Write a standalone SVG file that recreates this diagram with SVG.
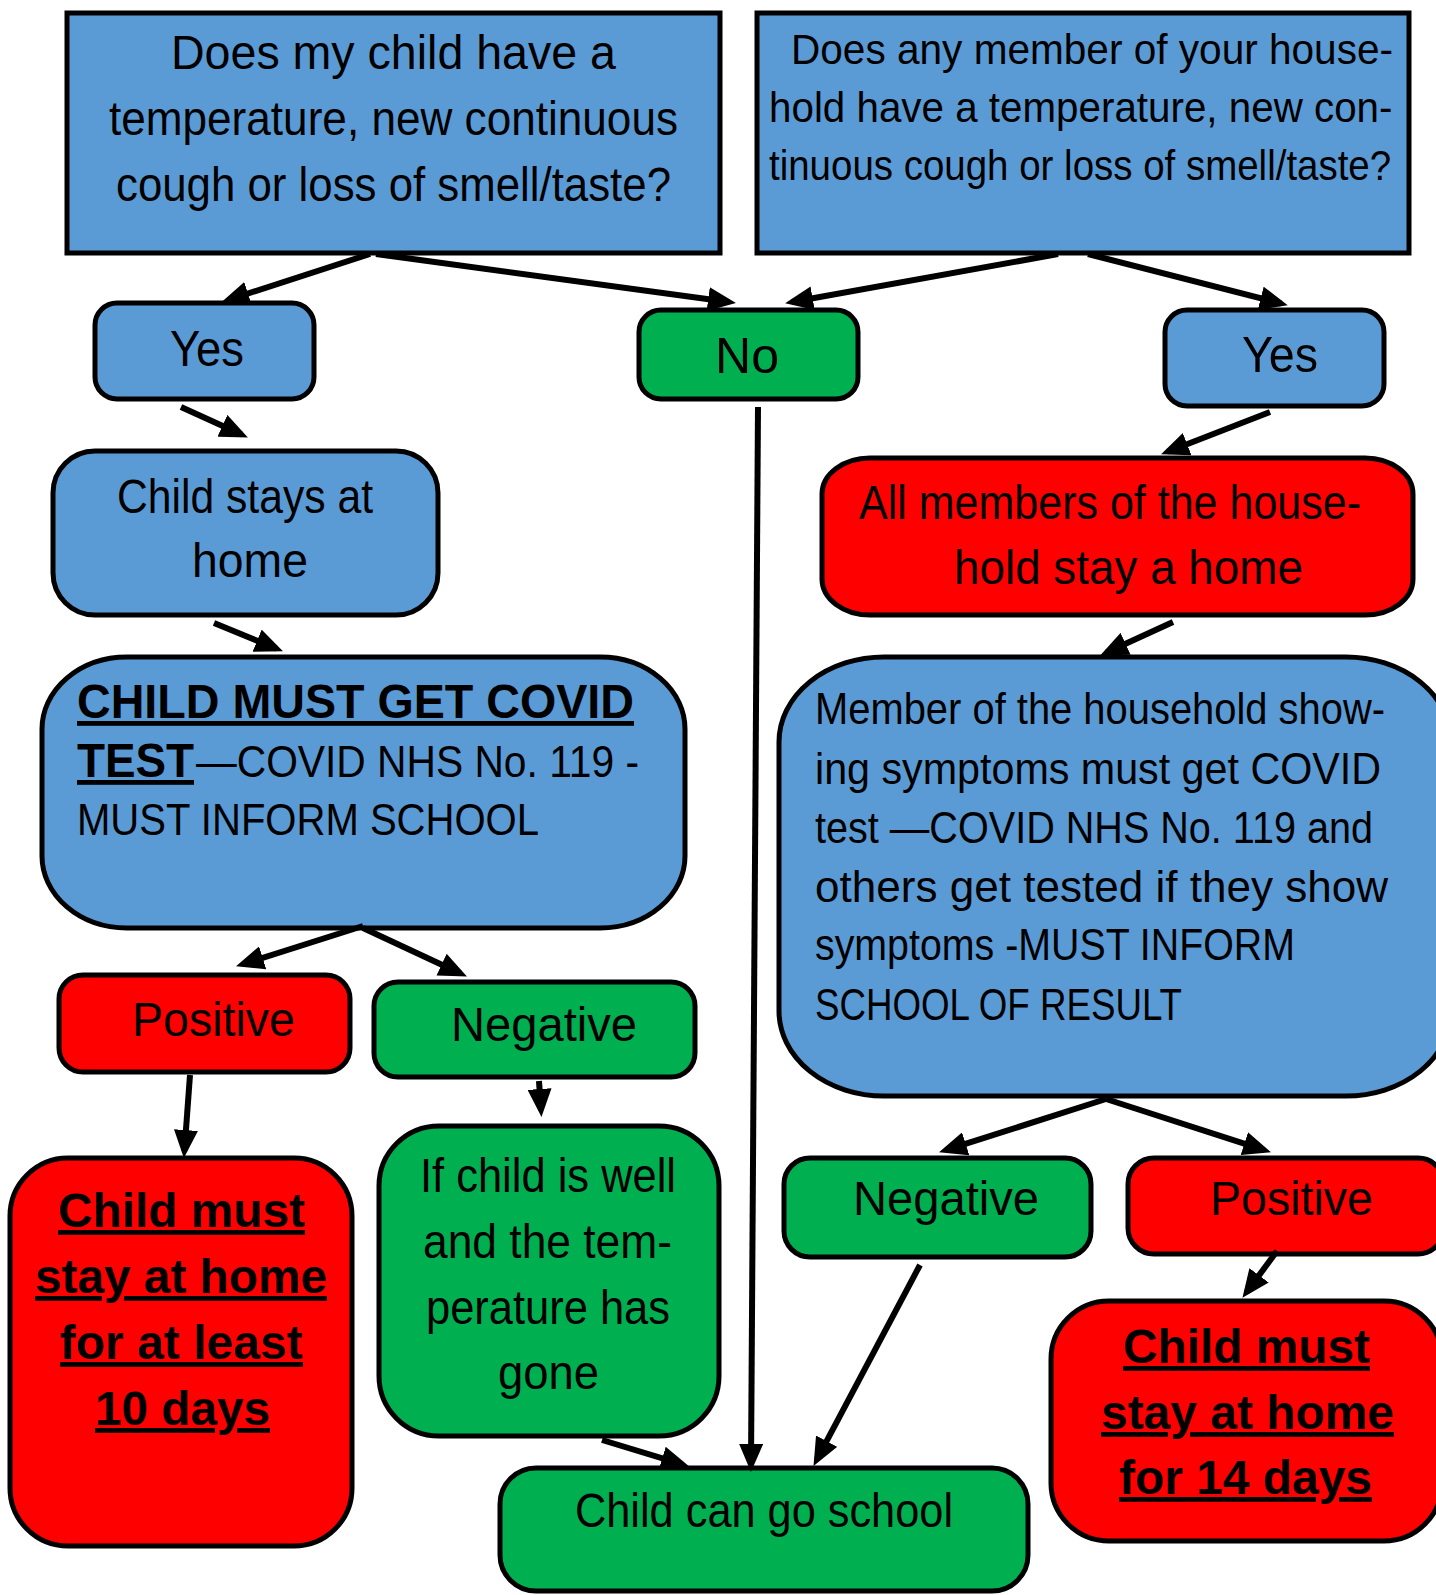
<svg xmlns="http://www.w3.org/2000/svg" width="1436" height="1595" viewBox="0 0 1436 1595">
<style>
.box{stroke:#000;stroke-width:5}
.blue{fill:#5b9bd5}
.green{fill:#00b050}
.red{fill:#ff0000}
text{font-family:"Liberation Sans",Arial,sans-serif;fill:#000}
.f48{font-size:48px}
.f44{font-size:44px}
.f42{font-size:42px}
.f50{font-size:50px}
.bu{font-weight:bold;text-decoration:underline}
.conn line{stroke:#000;stroke-width:6;marker-end:url(#ah)}
</style>
<defs>
<marker id="ah" markerUnits="userSpaceOnUse" viewBox="0 0 28 24" markerWidth="28" markerHeight="24" refX="21" refY="12" orient="auto">
<path d="M0,0 L28,12 L0,24 z" fill="#000"/>
</marker>
</defs>
<rect width="1436" height="1595" fill="#fff"/>

<g id="q1">
<rect class="box blue" x="67" y="13" width="653" height="240"/>
<text class="f48" x="171" y="69" textLength="445" lengthAdjust="spacingAndGlyphs">Does my child have a</text>
<text class="f48" x="109" y="135" textLength="569" lengthAdjust="spacingAndGlyphs">temperature, new continuous</text>
<text class="f48" x="116" y="201" textLength="555" lengthAdjust="spacingAndGlyphs">cough or loss of smell/taste?</text>
</g>

<g id="q2">
<rect class="box blue" x="757" y="13" width="652" height="240"/>
<text class="f42" x="791" y="64" textLength="602" lengthAdjust="spacingAndGlyphs">Does any member of your house-</text>
<text class="f42" transform="translate(769,122) scale(0.961,1)">hold have a temperature, new con-</text>
<text class="f42" transform="translate(769,180) scale(0.916,1)">tinuous cough or loss of smell/taste?</text>
</g>

<g id="yes1">
<rect class="box blue" x="95" y="303" width="219" height="96" rx="22"/>
<text class="f50" x="170" y="366" textLength="74" lengthAdjust="spacingAndGlyphs">Yes</text>
</g>

<g id="no">
<rect class="box green" x="639" y="310" width="219" height="89" rx="22"/>
<text class="f50" x="715" y="373" textLength="64" lengthAdjust="spacingAndGlyphs">No</text>
</g>

<g id="yes2">
<rect class="box blue" x="1165" y="310" width="219" height="96" rx="22"/>
<text class="f50" x="1242" y="372" textLength="76" lengthAdjust="spacingAndGlyphs">Yes</text>
</g>

<g id="child-stays">
<rect class="box blue" x="53" y="451" width="385" height="164" rx="42"/>
<text class="f48" x="117" y="513" textLength="256" lengthAdjust="spacingAndGlyphs">Child stays at</text>
<text class="f48" x="192" y="577" textLength="116" lengthAdjust="spacingAndGlyphs">home</text>
</g>

<g id="all-members">
<rect class="box red" x="822" y="458" width="591" height="157" rx="48" ry="36"/>
<text class="f48" x="859" y="519" textLength="502" lengthAdjust="spacingAndGlyphs">All members of the house-</text>
<text class="f48" x="954" y="584" textLength="349" lengthAdjust="spacingAndGlyphs">hold stay a home</text>
</g>

<g id="child-test">
<rect class="box blue" x="42" y="657" width="643" height="271" rx="85" ry="72"/>
<text class="f48 bu" x="77" y="718" textLength="557" lengthAdjust="spacingAndGlyphs">CHILD MUST GET COVID</text>
<text class="f48 bu" x="77" y="777" textLength="117" lengthAdjust="spacingAndGlyphs">TEST</text>
<text class="f44" x="196" y="777" textLength="443" lengthAdjust="spacingAndGlyphs">—COVID NHS No. 119 -</text>
<text class="f44" x="77" y="835" textLength="462" lengthAdjust="spacingAndGlyphs">MUST INFORM SCHOOL</text>
</g>

<g id="member-test">
<rect class="box blue" x="779" y="657" width="672" height="439" rx="105" ry="85"/>
<text class="f44" transform="translate(815,724) scale(0.907,1)">Member of the household show-</text>
<text class="f44" x="815" y="784" textLength="566" lengthAdjust="spacingAndGlyphs">ing symptoms must get COVID</text>
<text class="f44" x="815" y="843" textLength="558" lengthAdjust="spacingAndGlyphs">test —COVID NHS No. 119 and</text>
<text class="f44" x="815" y="902" textLength="573" lengthAdjust="spacingAndGlyphs">others get tested if they show</text>
<text class="f44" x="815" y="960" textLength="480" lengthAdjust="spacingAndGlyphs">symptoms -MUST INFORM</text>
<text class="f44" x="815" y="1020" textLength="367" lengthAdjust="spacingAndGlyphs">SCHOOL OF RESULT</text>
</g>

<g id="positive1">
<rect class="box red" x="59" y="975" width="291" height="97" rx="24"/>
<text class="f48" x="132" y="1036" textLength="163" lengthAdjust="spacingAndGlyphs">Positive</text>
</g>

<g id="negative1">
<rect class="box green" x="374" y="982" width="321" height="95" rx="24"/>
<text class="f48" x="451" y="1041" textLength="186" lengthAdjust="spacingAndGlyphs">Negative</text>
</g>

<g id="stay10">
<rect class="box red" x="10" y="1158" width="342" height="388" rx="58"/>
<text class="f48 bu" x="58" y="1227" textLength="247" lengthAdjust="spacingAndGlyphs">Child must</text>
<text class="f48 bu" x="35" y="1293" textLength="292" lengthAdjust="spacingAndGlyphs">stay at home</text>
<text class="f48 bu" x="60" y="1359" textLength="243" lengthAdjust="spacingAndGlyphs">for at least</text>
<text class="f48 bu" x="95" y="1425" textLength="175" lengthAdjust="spacingAndGlyphs">10 days</text>
</g>

<g id="child-well">
<rect class="box green" x="379" y="1126" width="340" height="310" rx="60"/>
<text class="f48" x="420" y="1192" textLength="256" lengthAdjust="spacingAndGlyphs">If child is well</text>
<text class="f48" x="423" y="1258" textLength="249" lengthAdjust="spacingAndGlyphs">and the tem-</text>
<text class="f48" x="426" y="1324" textLength="244" lengthAdjust="spacingAndGlyphs">perature has</text>
<text class="f48" x="498" y="1389" textLength="101" lengthAdjust="spacingAndGlyphs">gone</text>
</g>

<g id="negative2">
<rect class="box green" x="784" y="1158" width="307" height="99" rx="26"/>
<text class="f48" x="853" y="1215" textLength="186" lengthAdjust="spacingAndGlyphs">Negative</text>
</g>

<g id="positive2">
<rect class="box red" x="1128" y="1158" width="316" height="96" rx="26"/>
<text class="f48" x="1210" y="1215" textLength="163" lengthAdjust="spacingAndGlyphs">Positive</text>
</g>

<g id="stay14">
<rect class="box red" x="1051" y="1301" width="391" height="240" rx="58"/>
<text class="f48 bu" x="1123" y="1363" textLength="247" lengthAdjust="spacingAndGlyphs">Child must</text>
<text class="f48 bu" x="1101" y="1429" textLength="293" lengthAdjust="spacingAndGlyphs">stay at home</text>
<text class="f48 bu" x="1119" y="1494" textLength="253" lengthAdjust="spacingAndGlyphs">for 14 days</text>
</g>

<g id="go-school">
<rect class="box green" x="500" y="1468" width="528" height="123" rx="36"/>
<text class="f48" x="575" y="1527" textLength="378" lengthAdjust="spacingAndGlyphs">Child can go school</text>
</g>

<g class="conn" id="connectors">
<line x1="370" y1="254" x2="228" y2="300"/>
<line x1="376" y1="254" x2="729" y2="302"/>
<line x1="1058" y1="254" x2="792" y2="302"/>
<line x1="1088" y1="254" x2="1281" y2="303.5"/>
<line x1="181" y1="407" x2="241.5" y2="434.5"/>
<line x1="214" y1="623" x2="276.5" y2="648.7"/>
<line x1="1270" y1="412" x2="1167.6" y2="451.8"/>
<line x1="1173" y1="622" x2="1106.5" y2="652.5"/>
<line x1="363" y1="926" x2="242.7" y2="964.2"/>
<line x1="363" y1="928" x2="460.6" y2="973.5"/>
<line x1="190" y1="1075" x2="184.4" y2="1151"/>
<line x1="539" y1="1081" x2="541" y2="1110"/>
<line x1="602" y1="1440" x2="682.3" y2="1464.3"/>
<line x1="758" y1="407" x2="751" y2="1465"/>
<line x1="920" y1="1265" x2="816.8" y2="1459.7"/>
<line x1="1106" y1="1099" x2="945.7" y2="1150.2"/>
<line x1="1106" y1="1099" x2="1264.3" y2="1150.2"/>
<line x1="1277" y1="1251" x2="1246.6" y2="1292.2"/>
</g>
</svg>
